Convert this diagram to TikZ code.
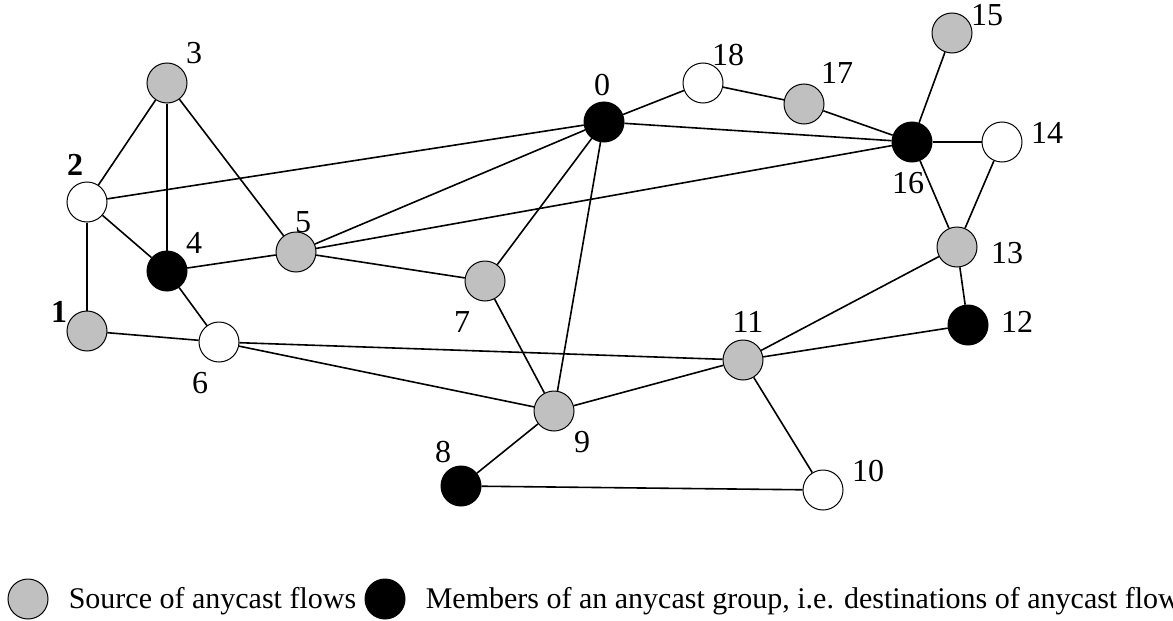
\documentclass[tikz,border=0pt]{standalone}
\usepackage{fontspec}
\setmainfont{Liberation Serif}
\usepackage{xcolor}
\definecolor{srcgray}{RGB}{192,192,192}

\begin{document}
\begin{tikzpicture}[x=0.5pt, y=-0.5pt, -, thick, font=\fontsize{16}{19}\selectfont,
    main node/.style={circle, draw, line width=0.5pt, minimum size=20pt, inner sep=0pt},
    src node/.style={main node, fill=srcgray},
    member node/.style={main node, fill=black},
    free node/.style={main node, fill=white},
    tag/.style={inner sep=0pt},
    key text/.style={inner sep=0pt, anchor=base west, font=\fontsize{15}{18}\selectfont}]
                \useasboundingbox (0,0) rectangle (1173,621);

                \node[member node] (0) at (604,122) {};
                \node[src node] (1) at (87,331) {};
                \node[free node] (2) at (87,202) {};
                \node[src node] (3) at (167,83) {};
                \node[member node] (4) at (167,271) {};
                \node[src node] (5) at (296,252) {};
                \node[free node] (6) at (219,342) {};
                \node[src node] (7) at (485,281) {};
                \node[member node] (8) at (461,486) {};
                \node[src node] (9) at (554,411) {};
                \node[free node] (10) at (823,490) {};
                \node[src node] (11) at (743,360) {};
                \node[member node] (12) at (968,325) {};
                \node[src node] (13) at (957,247) {};
                \node[free node] (14) at (1002,142) {};
                \node[src node] (15) at (952,33) {};
                \node[member node] (16) at (912,142) {};
                \node[src node] (17) at (804,104) {};
                \node[free node] (18) at (703,83) {};

                % node numbers
                \node[tag] (t0) at (602,85) {0};
                \node[tag] (t1) at (59,312) {\textbf{1}};
                \node[tag] (t2) at (75,165) {\textbf{2}};
                \node[tag] (t3) at (194,53) {3};
                \node[tag] (t4) at (194,243) {4};
                \node[tag] (t5) at (303,222) {5};
                \node[tag] (t6) at (200,383) {6};
                \node[tag] (t7) at (462,322) {7};
                \node[tag] (t8) at (443,452) {8};
                \node[tag] (t9) at (582,442) {9};
                \node[tag] (t10) at (868,471) {10};
                \node[tag] (t11) at (748,322) {11};
                \node[tag] (t12) at (1017,322) {12};
                \node[tag] (t13) at (1007,253) {13};
                \node[tag] (t14) at (1047,133) {14};
                \node[tag] (t15) at (987,15) {15};
                \node[tag] (t16) at (908,183) {16};
                \node[tag] (t17) at (837,73) {17};
                \node[tag] (t18) at (728,55) {18};

                \path
                    (3) edge (2)
                    (3) edge (4)
                    (3) edge (5)
                    (2) edge (0)
                    (2) edge (4)
                    (2) edge (1)
                    (1) edge (6)
                    (4) edge (6)
                    (4) edge (5)
                    (5) edge (0)
                    (5) edge (16)
                    (5) edge (7)
                    (6) edge (11)
                    (6) edge (9)
                    (7) edge (0)
                    (7) edge (9)
                    (0) edge (9)
                    (0) edge (18)
                    (18) edge (17)
                    (17) edge (16)
                    (0) edge (16)
                    (16) edge (15)
                    (16) edge (14)
                    (16) edge (13)
                    (14) edge (13)
                    (13) edge (12)
                    (13) edge (11)
                    (11) edge (12)
                    (11) edge (9)
                    (11) edge (10)
                    (9) edge (8)
                    (8) edge (10)
                ;

                % legend
                \node[src node] (keysrc) at (28,599) {};
                \node[key text] (txtsrc) at (68,608) {Source of anycast flows};
                \node[member node] (keymem) at (385,599) {};
                \node[key text] (txtmem) at (425,608) {Members of an anycast group, i.e. destinations of anycast flows};
            \end{tikzpicture}
\end{document}
